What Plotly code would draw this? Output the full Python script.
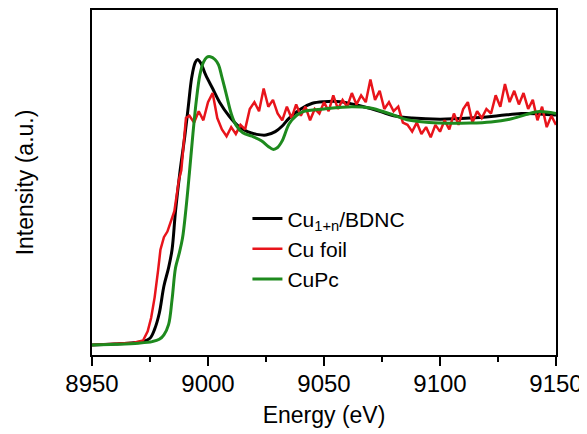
import plotly.graph_objects as go

# Cu K-edge XANES, normalised intensity
black_e = [8950, 8960, 8968, 8972, 8975, 8977, 8979, 8981, 8983, 8984.5, 8986, 8988, 8990,
           8991.5, 8993, 8994.5, 8995.5, 8997, 8999, 9002, 9005, 9009, 9013, 9017, 9021,
           9025, 9029, 9032, 9035, 9040, 9045, 9050, 9057, 9065, 9074, 9080, 9088, 9100,
           9113, 9125, 9135, 9143, 9150]
black_y = [0.0, 0.005, 0.01, 0.015, 0.03, 0.07, 0.14, 0.26, 0.34, 0.42, 0.59, 0.77, 0.92,
           1.05, 1.18, 1.245, 1.258, 1.24, 1.19, 1.13, 1.07, 1.01, 0.965, 0.94, 0.928,
           0.925, 0.94, 0.965, 1.0, 1.04, 1.065, 1.072, 1.072, 1.055, 1.03, 1.01, 1.0, 0.995,
           1.0, 1.01, 1.02, 1.018, 1.013]

green_e = [8950, 8960, 8970, 8976, 8979, 8981, 8983, 8984.5, 8986, 8987.5, 8989, 8990.5,
           8992, 8993.5, 8995, 8996.5, 8998, 8999.5, 9001, 9003, 9004.5, 9006, 9008, 9010,
           9012, 9015, 9019, 9023, 9026, 9028, 9030, 9032, 9035, 9038, 9041, 9050, 9062,
           9070, 9078, 9087, 9100, 9113, 9122, 9130, 9137, 9142, 9150]
green_y = [0.0, 0.003, 0.008, 0.015, 0.025, 0.045, 0.09, 0.2, 0.34, 0.4, 0.47, 0.6,
           0.76, 0.93, 1.08, 1.19, 1.245, 1.268, 1.27, 1.258, 1.235, 1.18, 1.1, 1.02,
           0.97, 0.935, 0.92, 0.9, 0.875, 0.862, 0.87, 0.9, 0.975, 1.01, 1.028, 1.04, 1.05,
           1.044, 1.02, 0.99, 0.978, 0.978, 0.983, 0.995, 1.015, 1.028, 1.02]

red_e = [8950, 8960, 8968, 8972, 8974, 8975.5, 8977, 8978.5, 8979.5, 8981, 8982.5, 8984,
         8985.5, 8986.5, 8987.5, 8988.5, 8989.5, 8990.5,
         8992, 8994, 8996, 8998, 9000, 9002, 9004, 9006, 9008, 9010, 9012, 9014, 9016,
         9018, 9020, 9022, 9024, 9026, 9028, 9030, 9032, 9034, 9036, 9038, 9040, 9042,
         9044, 9046, 9048, 9050, 9052, 9054, 9056, 9058, 9060, 9062, 9064, 9066, 9068,
         9070, 9072, 9074, 9076, 9078, 9080, 9082, 9084, 9086, 9088, 9090, 9092, 9094,
         9096, 9098, 9100, 9102, 9104, 9106, 9108, 9110, 9112, 9114, 9116, 9118, 9120,
         9122, 9124, 9126, 9128, 9130, 9132, 9134, 9136, 9138, 9140, 9142, 9144, 9146,
         9148, 9150]
red_y = [0.0, 0.005, 0.01, 0.02, 0.06, 0.12, 0.21, 0.33, 0.42, 0.475, 0.5, 0.545,
         0.59, 0.66, 0.73, 0.77, 0.9, 1.0,
         1.01, 0.98, 1.03, 0.99, 1.07, 1.11, 1.0, 0.95, 0.92, 0.96, 0.93, 0.97, 0.95,
         1.04, 1.07, 1.03, 1.13, 1.05, 1.08, 1.02, 0.99, 1.05, 1.0, 1.06, 1.01, 1.05,
         0.99, 1.04, 1.02, 1.07, 1.03, 1.1, 1.04, 1.08, 1.05, 1.11, 1.06, 1.1, 1.07,
         1.17, 1.08, 1.12, 1.04, 1.07, 1.03, 1.05, 0.98, 0.97, 0.94, 0.98, 0.93, 0.96,
         0.915, 0.97, 0.94, 0.99, 0.95, 1.02, 0.97, 1.04, 1.07, 0.98, 1.03, 1.0, 1.04,
         1.02, 1.1, 1.05, 1.15, 1.07, 1.12, 1.06, 1.11, 1.04, 1.08, 0.99, 1.05, 0.96,
         1.01, 0.97]

fig = go.Figure()
fig.add_trace(go.Scatter(x=black_e, y=black_y, mode="lines", name="Cu<sub>1+n</sub>/BDNC",
                         line=dict(color="black", width=3, shape="spline")))
fig.add_trace(go.Scatter(x=red_e, y=red_y, mode="lines", name="Cu foil",
                         line=dict(color="#e8141b", width=2.5)))
fig.add_trace(go.Scatter(x=green_e, y=green_y, mode="lines", name="CuPc",
                         line=dict(color="#1e8a1e", width=3, shape="spline")))

# page body adds an 8px offset, so margins are shifted to compensate
fig.update_layout(
    width=587, height=426,
    margin=dict(l=84, r=39, t=2, b=79),
    paper_bgcolor="white", plot_bgcolor="white",
    font=dict(family="Liberation Sans, Arial", color="black"),
    legend=dict(x=0.335, y=0.454, xanchor="left", yanchor="top",
                font=dict(size=21), bgcolor="rgba(0,0,0,0)", tracegroupgap=0),
    showlegend=True,
)
fig.update_xaxes(
    range=[8950, 9150], tickvals=[8950, 9000, 9050, 9100, 9150],
    ticks="outside", ticklen=9, tickwidth=2, tickcolor="black",
    minor=dict(tickvals=[8975, 9025, 9075, 9125], ticks="outside", ticklen=5,
               tickwidth=2, tickcolor="black"),
    tickfont=dict(size=24), ticklabelstandoff=-3,
    showline=True, linewidth=2, linecolor="black",
    mirror=True, showgrid=False, zeroline=False, automargin=False,
    title=dict(text="Energy (eV)", font=dict(size=23), standoff=11),
)
fig.update_yaxes(
    range=[-0.044, 1.476], showticklabels=False, ticks="",
    showline=True, linewidth=2, linecolor="black", mirror=True,
    showgrid=False, zeroline=False, automargin=False,
    title=dict(text="Intensity (a.u.)", font=dict(size=23), standoff=50),
)

fig.write_html("out.html")
